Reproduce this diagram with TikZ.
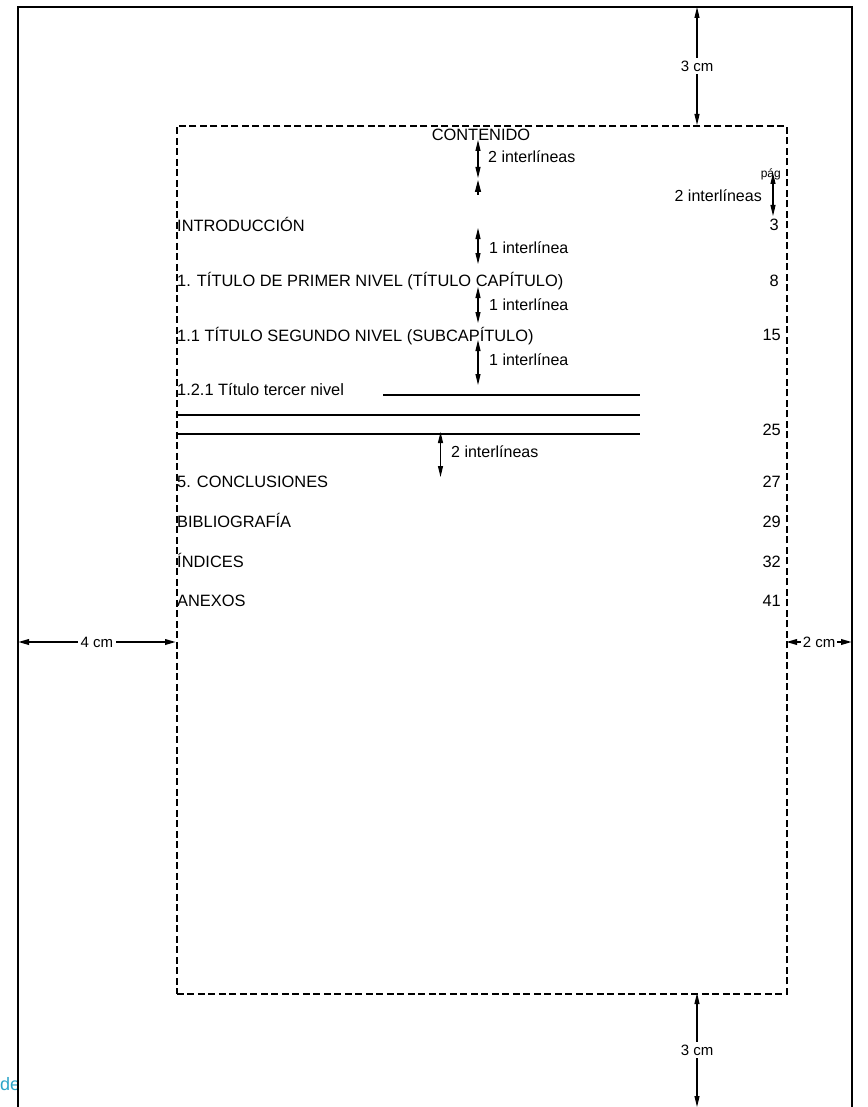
\documentclass[tikz,border=0pt]{standalone}
\usepackage{fontspec}
\setmainfont{Liberation Sans}
\usetikzlibrary{arrows.meta}
\definecolor{linkcyan}{RGB}{45,165,200}
\begin{document}
\begin{tikzpicture}[x=1pt,y=-1pt,
  dim/.style={{Triangle[length=11pt,width=5pt]}-{Triangle[length=11pt,width=5pt]}, line width=1.1pt},
  updim/.style={-{Triangle[length=12pt,width=6pt]}, line width=1.1pt},
  mdim/.style={{Triangle[length=11pt,width=5.5pt]}-{Triangle[length=11pt,width=5.5pt]}, line width=2pt},
  entry/.style={anchor=base west, inner sep=0pt, font=\fontsize{16.4}{18}\selectfont},
  pnum/.style={anchor=base east, inner sep=0pt, font=\fontsize{16.4}{18}\selectfont},
  gap/.style={anchor=west, inner sep=0pt, font=\fontsize{16}{18}\selectfont},
  mlabel/.style={fill=white, inner sep=2.5pt, font=\fontsize{15}{17}\selectfont},
  rule/.style={line width=1.6pt}]
\useasboundingbox (0,0) rectangle (867,1107);
% cyan text clipped by the page frame
\begin{scope}
\clip (0,1060) rectangle (17,1107);
\node[anchor=base west, inner sep=0pt, text=linkcyan, font=\fontsize{18}{20}\selectfont] (dtext) at (0,1090) {de};
\end{scope}
% page frame
\coordinate (pbl) at (18,1107);
\coordinate (ptl) at (18,7);
\coordinate (ptr) at (852,7);
\coordinate (pbr) at (852,1107);
\draw[line width=2.6pt] (pbl) -- (ptl) -- (ptr) -- (pbr);
% text area
\node[draw, dash pattern=on 7pt off 3.5pt, line width=1.8pt, minimum width=610pt, minimum height=868pt, inner sep=0pt, anchor=north west] (box) at (176,125) {};
% margins
\coordinate (tt) at (697,7);
\coordinate (tb) at (697,125);
\draw[dim] (tt) -- node[mlabel] {3 cm} (tb);
\coordinate (bt) at (697,993);
\coordinate (bb) at (697,1107);
\draw[dim] (bt) -- node[mlabel] {3 cm} (bb);
\coordinate (ll) at (18,642);
\coordinate (lr) at (176,642);
\draw[mdim] (ll) -- node[mlabel] {4 cm} (lr);
\coordinate (rl) at (786,642);
\coordinate (rr) at (852,642);
\draw[mdim] (rl) -- node[mlabel, inner sep=1.5pt] {2 cm} (rr);
% title
\node[anchor=base, inner sep=0pt, font=\fontsize{16.4}{18}\selectfont] (cont) at (481,141) {CONTENIDO};
% entries
\node[entry] (intro) at (177,232) {INTRODUCCIÓN};
\node[entry] (t1) at (177,286) {1. TÍTULO DE PRIMER NIVEL (TÍTULO CAPÍTULO)};
\node[entry] (t11) at (177,341) {1.1 TÍTULO SEGUNDO NIVEL (SUBCAPÍTULO)};
\node[entry] (t121) at (177,395.5) {1.2.1 Título tercer nivel};
\node[entry] (concl) at (177,487.5) {5. CONCLUSIONES};
\node[entry] (bib) at (177,527) {BIBLIOGRAFÍA};
\node[entry] (ind) at (177,567) {ÍNDICES};
\node[entry] (anx) at (177,606.5) {ANEXOS};
% page numbers
\node[anchor=base east, inner sep=0pt, font=\fontsize{12}{14}\selectfont] (pag) at (781,178) {pág};
\node[pnum] (p3) at (779,231) {3};
\node[pnum] (p8) at (779,286.5) {8};
\node[pnum] (p15) at (781,340) {15};
\node[pnum] (p25) at (781,435.5) {25};
\node[pnum] (p27) at (781,487) {27};
\node[pnum] (p29) at (781,527) {29};
\node[pnum] (p32) at (781,567) {32};
\node[pnum] (p41) at (781,606.5) {41};
% rules
\coordinate (r1a) at (383,395); \coordinate (r1b) at (640,395);
\coordinate (r2a) at (176,415); \coordinate (r2b) at (640,415);
\coordinate (r3a) at (176,434); \coordinate (r3b) at (640,434);
\draw[rule] (r1a) -- (r1b);
\draw[rule] (r2a) -- (r2b);
\draw[rule] (r3a) -- (r3b);
% spacing arrows
\coordinate (a1t) at (478,140); \coordinate (a1m) at (478,178);
\coordinate (a1b) at (478,195); \coordinate (a1c) at (478,180);
\draw[dim] (a1t) -- (a1m);
\draw[updim] (a1b) -- (a1c);
\node[gap] (g1) at (488,157) {2 interlíneas};
\coordinate (a2t) at (478,228); \coordinate (a2b) at (478,264);
\draw[dim] (a2t) -- (a2b);
\node[gap] (g2) at (489,248) {1 interlínea};
\coordinate (a3t) at (478,287); \coordinate (a3b) at (478,323);
\draw[dim] (a3t) -- (a3b);
\node[gap] (g3) at (489,305) {1 interlínea};
\coordinate (a4t) at (478,340); \coordinate (a4b) at (478,385);
\draw[dim] (a4t) -- (a4b);
\node[gap] (g4) at (489,360) {1 interlínea};
\coordinate (a5t) at (440.5,432); \coordinate (a5b) at (440.5,477);
\draw[dim] (a5t) -- (a5b);
\node[gap] (g5) at (451,452) {2 interlíneas};
\coordinate (a6t) at (773,173); \coordinate (a6b) at (773,216);
\draw[dim] (a6t) -- (a6b);
\node[gap, anchor=east] (g6) at (762,196) {2 interlíneas};
\end{tikzpicture}
\end{document}
